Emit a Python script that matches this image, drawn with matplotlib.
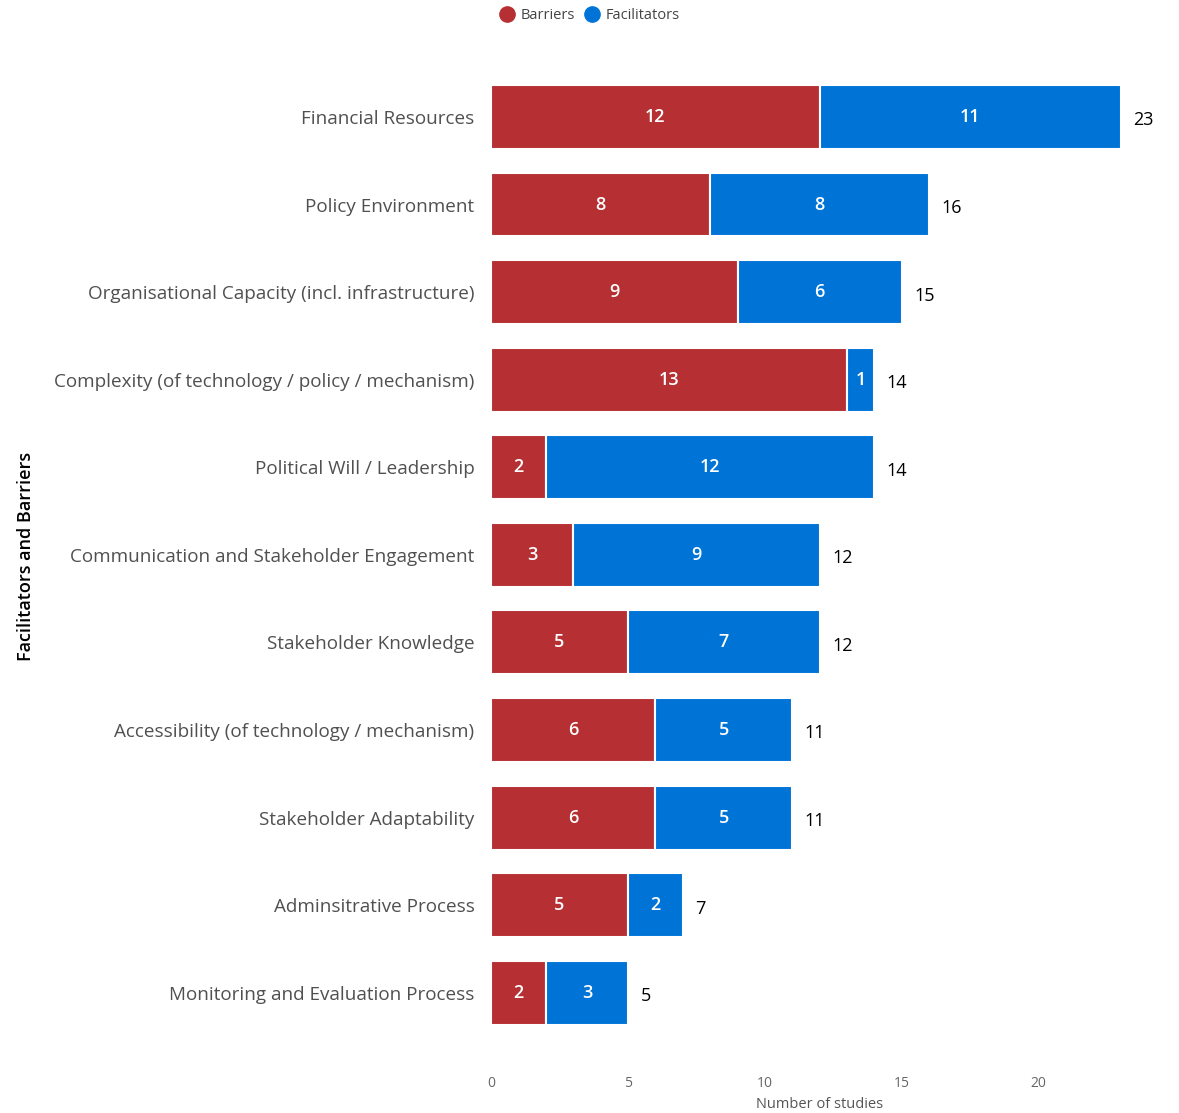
import numpy as np
import matplotlib.pyplot as plt
from matplotlib.lines import Line2D

plt.rcParams['font.family'] = ['Open Sans', 'DejaVu Sans']

categories = [
    'Financial Resources',
    'Policy Environment',
    'Organisational Capacity (incl. infrastructure)',
    'Complexity (of technology / policy / mechanism)',
    'Political Will / Leadership',
    'Communication and Stakeholder Engagement',
    'Stakeholder Knowledge',
    'Accessibility (of technology / mechanism)',
    'Stakeholder Adaptability',
    'Adminsitrative Process',
    'Monitoring and Evaluation Process',
]
barriers = [12, 8, 9, 13, 2, 3, 5, 6, 6, 5, 2]
facilitators = [11, 8, 6, 1, 12, 9, 7, 5, 5, 2, 3]

red = '#B52F33'
blue = '#0073D7'

fig = plt.figure(figsize=(11.79, 11.13), dpi=100)
ax = fig.add_axes([0.4165, 0.053, 0.5575, 0.897])

y = np.arange(len(categories))
b = np.array(barriers)
f = np.array(facilitators)
h = 0.73

ax.barh(y, b, height=h, color=red, edgecolor='white', linewidth=1.5)
ax.barh(y, f, left=b, height=h, color=blue, edgecolor='white', linewidth=1.5)

for i in range(len(categories)):
    ax.text(b[i] / 2, y[i], str(b[i]), ha='center', va='center',
            color='white', fontsize=13, fontweight='semibold')
    ax.text(b[i] + f[i] / 2, y[i], str(f[i]), ha='center', va='center',
            color='white', fontsize=13, fontweight='semibold')
    ax.text(b[i] + f[i] + 0.45, y[i] + 0.04, str(b[i] + f[i]), ha='left',
            va='center', color='black', fontsize=13)

ax.set_ylim(len(categories) - 0.3, -0.7)
ax.set_xlim(0, 24)
ax.set_yticks(y)
ax.set_yticklabels(categories, fontsize=13.6, color='#505050')
ax.set_xticks([0, 5, 10, 15, 20])
ax.tick_params(axis='x', labelsize=10, colors='#666666', length=0, pad=16)
ax.tick_params(axis='y', length=0, pad=12)
for s in ax.spines.values():
    s.set_visible(False)
ax.set_xlabel('Number of studies', fontsize=10.5, color='#555555', labelpad=4)
fig.text(0.022, 0.5, 'Facilitators and Barriers', rotation=90, ha='center',
         va='center', fontsize=13, color='black', fontweight='semibold')

handles = [
    Line2D([], [], marker='o', linestyle='', color=red, markersize=11),
    Line2D([], [], marker='o', linestyle='', color=blue, markersize=11),
]
fig.legend(handles, ['Barriers', 'Facilitators'], loc='center',
           bbox_to_anchor=(0.497, 0.986), ncol=2, frameon=False, fontsize=10.5,
           handletextpad=-0.1, columnspacing=0.2, labelcolor='#444444')

fig.savefig('out.png', dpi=100)
